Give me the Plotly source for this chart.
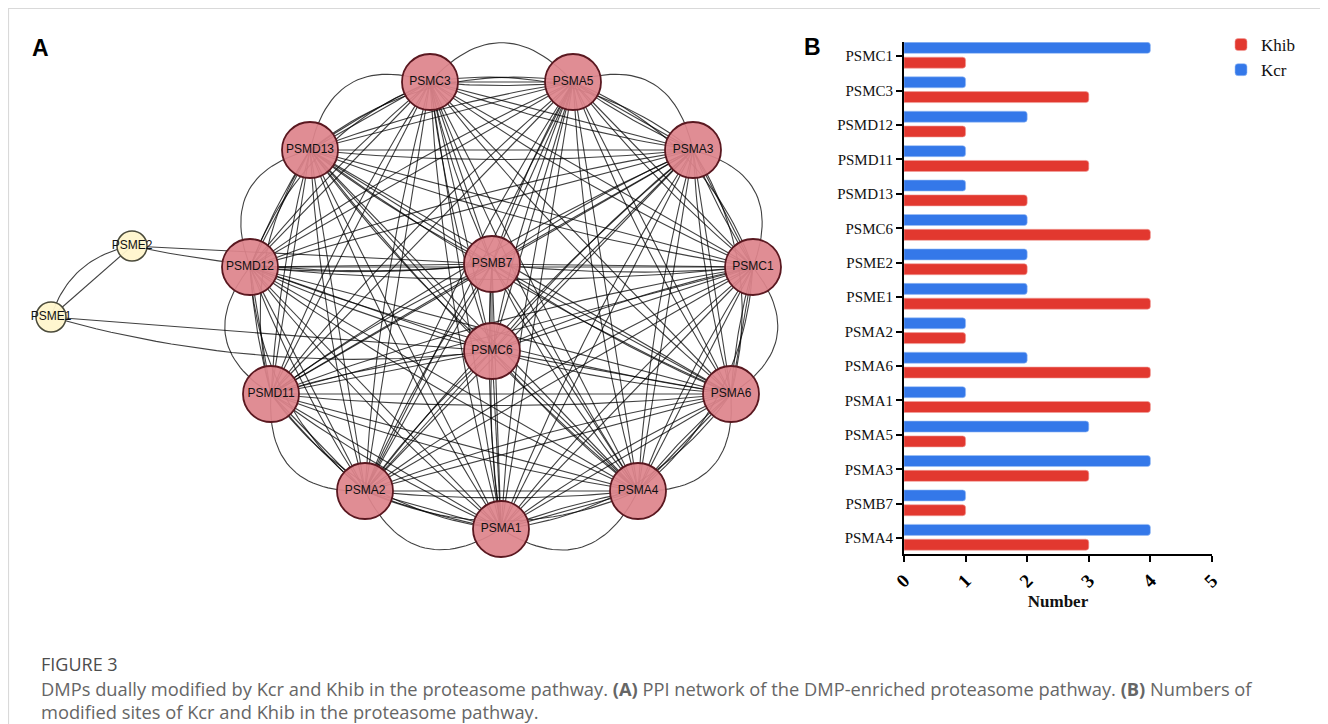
import itertools
import numpy as np
import plotly.graph_objects as go

# ---------------- Panel B data ----------------
proteins = ["PSMC1", "PSMC3", "PSMD12", "PSMD11", "PSMD13", "PSMC6", "PSME2", "PSME1",
            "PSMA2", "PSMA6", "PSMA1", "PSMA5", "PSMA3", "PSMB7", "PSMA4"]
kcr_sites = [4, 1, 2, 1, 1, 2, 2, 2, 1, 2, 1, 3, 4, 1, 4]
khib_sites = [1, 3, 1, 3, 2, 4, 2, 4, 1, 4, 4, 1, 3, 1, 3]
x_ticks = [0, 1, 2, 3, 4, 5]

# ---------------- Panel A data (network layout) ----------------
node_names = ["PSMC3", "PSMA5", "PSMD13", "PSMA3", "PSMD12", "PSMB7", "PSMC1", "PSMC6",
              "PSMD11", "PSMA6", "PSMA2", "PSMA4", "PSMA1", "PSME2", "PSME1"]
node_x = [430, 573, 310, 693, 250, 492, 753, 492, 271, 731, 365, 638, 501, 132, 51]
node_y = [82, 82, 150, 150, 267, 264, 267, 351, 394, 394, 491, 491, 529, 246, 317]
core_nodes = ["PSMC3", "PSMA5", "PSMD13", "PSMA3", "PSMD12", "PSMB7", "PSMC1", "PSMC6",
              "PSMD11", "PSMA6", "PSMA2", "PSMA4", "PSMA1"]   # all pairs interact
ring_order = ["PSMC3", "PSMA5", "PSMA3", "PSMC1", "PSMA6", "PSMA4", "PSMA1", "PSMA2",
              "PSMD11", "PSMD12", "PSMD13"]
peripheral_nodes = ["PSME2", "PSME1"]

pos = {n: (x, y) for n, x, y in zip(node_names, node_x, node_y)}
ring_cx = np.mean([pos[n][0] for n in ring_order])
ring_cy = np.mean([pos[n][1] for n in ring_order])

ex, ey = [], []


def add_edge(a, b, bend=0.0, outward=False):
    x0, y0 = pos[a]
    x1, y1 = pos[b]
    if bend == 0:
        ex.extend([x0, x1, None]); ey.extend([y0, y1, None]); return
    mx, my = (x0 + x1) / 2, (y0 + y1) / 2
    dx, dy = x1 - x0, y1 - y0
    L = np.hypot(dx, dy)
    px, py = -dy / L, dx / L
    if outward and (mx + px - ring_cx) ** 2 + (my + py - ring_cy) ** 2 < (mx - ring_cx) ** 2 + (my - ring_cy) ** 2:
        px, py = -px, -py
    cx, cy = mx + px * bend * L, my + py * bend * L
    t = np.linspace(0, 1, 30)
    bx = (1 - t) ** 2 * x0 + 2 * (1 - t) * t * cx + t ** 2 * x1
    by = (1 - t) ** 2 * y0 + 2 * (1 - t) * t * cy + t ** 2 * y1
    ex.extend(list(bx) + [None]); ey.extend(list(by) + [None])


for a, b in itertools.combinations(core_nodes, 2):
    add_edge(a, b)
    add_edge(a, b, bend=0.05)
nr = len(ring_order)
for i in range(nr):
    add_edge(ring_order[i], ring_order[(i + 1) % nr], bend=0.55, outward=True)
    add_edge(ring_order[i], ring_order[(i + 2) % nr], bend=0.22, outward=True)
add_edge("PSME2", "PSME1", bend=0.3)
add_edge("PSME2", "PSME1")
add_edge("PSME2", "PSMB7")
add_edge("PSME2", "PSMB7", bend=0.08)
add_edge("PSME1", "PSMC6")
add_edge("PSME1", "PSMC6", bend=0.1)

fig = go.Figure()

fig.add_trace(go.Scatter(x=ex, y=ey, mode="lines", xaxis="x", yaxis="y",
                         line=dict(color="rgba(0,0,0,0.75)", width=1.1),
                         hoverinfo="skip", showlegend=False))

core_idx = [i for i, n in enumerate(node_names) if n in core_nodes]
per_idx = [i for i, n in enumerate(node_names) if n in peripheral_nodes]
fig.add_trace(go.Scatter(
    x=[node_x[i] for i in core_idx], y=[node_y[i] for i in core_idx],
    text=[node_names[i] for i in core_idx], mode="markers+text",
    marker=dict(size=56, color="rgba(222,132,140,0.93)", line=dict(color="#5a1820", width=1.8)),
    textfont=dict(family="Liberation Sans, Arial", size=12, color="#111"),
    textposition="middle center", showlegend=False, hoverinfo="text"))
fig.add_trace(go.Scatter(
    x=[node_x[i] for i in per_idx], y=[node_y[i] for i in per_idx],
    text=[node_names[i] for i in per_idx], mode="markers+text",
    marker=dict(size=30, color="rgba(255,246,204,0.95)", line=dict(color="#4a4a3a", width=1.5)),
    textfont=dict(family="Liberation Sans, Arial", size=12, color="#111"),
    textposition="middle center", showlegend=False, hoverinfo="text"))

# ---------------- Panel B bars ----------------
fig.add_trace(go.Bar(name="Kcr", y=proteins, x=kcr_sites, orientation="h",
                     xaxis="x2", yaxis="y2", offset=-0.40, width=0.32,
                     marker=dict(color="#3478E9", line=dict(color="#9cc0f5", width=0.6)),
                     legendrank=2))
fig.add_trace(go.Bar(name="Khib", y=proteins, x=khib_sites, orientation="h",
                     xaxis="x2", yaxis="y2", offset=0.03, width=0.32,
                     marker=dict(color="#E2382F", line=dict(color="#f2a09a", width=0.6)),
                     legendrank=1))

# page body has an 8px margin: the figure is placed at (8, 8) in the window
OFF = 8
FW, FH = 1320, 716


def fx(p):
    return (p - OFF) / FW


def fy(p):
    return 1 - (p - OFF) / FH


serif = "Liberation Serif, Times New Roman, serif"
fig.update_layout(
    width=FW, height=FH, margin=dict(l=0, r=0, t=0, b=0, autoexpand=False),
    paper_bgcolor="white", plot_bgcolor="rgba(0,0,0,0)",
    barmode="overlay", barcornerradius=3,
    xaxis=dict(domain=[0, 1], range=[OFF, OFF + FW], visible=False, fixedrange=True),
    yaxis=dict(domain=[0, 1], range=[OFF + FH, OFF], visible=False, fixedrange=True),
    xaxis2=dict(domain=[fx(904), fx(1212)], range=[0, 5], anchor="y2",
                tickvals=x_ticks, ticktext=["<b>%d</b>" % v for v in x_ticks], tickangle=-45,
                showline=True, linecolor="black", linewidth=2, ticks="outside",
                ticklen=6, tickwidth=2, tickcolor="black", showgrid=False, zeroline=False,
                tickfont=dict(family=serif, size=19, color="black"),
                title=dict(text="<b>Number</b>", font=dict(family=serif, size=17, color="#111"),
                           standoff=4)),
    yaxis2=dict(domain=[fy(554), fy(42)], anchor="x2", type="category",
                categoryorder="array", categoryarray=proteins, range=[14.46, -0.41],
                showline=True, linecolor="black", linewidth=2, ticks="outside",
                ticklen=6, tickwidth=2, tickcolor="black", showgrid=False,
                tickfont=dict(family=serif, size=15, color="#111")),
    legend=dict(x=fx(1221), y=fy(27), xanchor="left", yanchor="top",
                font=dict(family=serif, size=17, color="#111"), bgcolor="rgba(0,0,0,0)",
                itemwidth=30, tracegroupgap=0),
    showlegend=True,
)

fig.add_shape(type="rect", xref="paper", yref="paper", x0=fx(8.5), x1=fx(1325.5),
              y0=-0.02, y1=fy(8.5), line=dict(color="#d9d9d9", width=1.2), layer="below")

fig.add_annotation(x=fx(40), y=fy(48), xref="paper", yref="paper", text="<b>A</b>",
                   xanchor="center", yanchor="middle", showarrow=False,
                   font=dict(family="Liberation Sans, Arial", size=23, color="black"))
fig.add_annotation(x=fx(812), y=fy(47), xref="paper", yref="paper", text="<b>B</b>",
                   xanchor="center", yanchor="middle", showarrow=False,
                   font=dict(family="Liberation Sans, Arial", size=23, color="black"))

cap_font = "Open Sans, Noto Sans, sans-serif"
caption_lines = [
    "DMPs dually modified by Kcr and Khib in the proteasome pathway. <b>(A)</b> PPI network of the DMP-enriched proteasome pathway. <b>(B)</b> Numbers of",
    "modified sites of Kcr and Khib in the proteasome pathway.",
]
fig.add_annotation(x=fx(39), y=fy(664), xref="paper", yref="paper", xanchor="left",
                   yanchor="middle", text="FIGURE 3", showarrow=False,
                   font=dict(family=cap_font, size=18, color="#4d4d4d"))
for k, line in enumerate(caption_lines):
    fig.add_annotation(x=fx(39), y=fy(688 + 23 * k), xref="paper", yref="paper",
                       xanchor="left", yanchor="middle", text=line, showarrow=False,
                       font=dict(family=cap_font, size=18.3, color="#666666"))

fig.write_html("out.html")
